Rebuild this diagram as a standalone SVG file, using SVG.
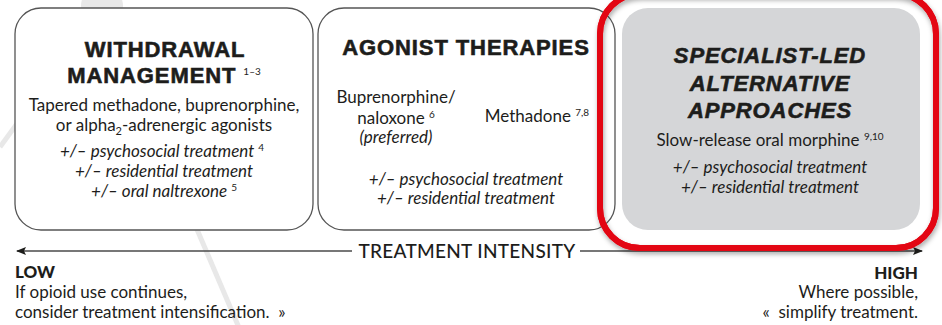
<svg xmlns="http://www.w3.org/2000/svg" width="942" height="325" viewBox="0 0 942 325">
<defs>
<style>
.bg{stroke:#e8e8e8;stroke-width:5;fill:none}
.bgc{fill:#e8e8e8}
.box{fill:#fff;stroke:#555;stroke-width:1.3}
.grey{fill:#d5d6d8}
.red{fill:none;stroke:#e30613;stroke-width:6}
.t{font-family:Lato,"Open Sans","Liberation Sans",sans-serif;fill:#1d1d1b}
.h{font-family:"Liberation Sans",Arial,sans-serif;font-weight:700;font-size:22px;letter-spacing:0.9px;stroke:#1d1d1b;stroke-width:0.6px}
.hi{font-family:"Liberation Sans",Arial,sans-serif;font-weight:700;font-style:italic;font-size:22px;letter-spacing:0.9px;stroke:#1d1d1b;stroke-width:0.6px}
.b{font-size:17px}
.i{font-style:italic;font-size:17px}
.sup{font-size:10px;stroke:none}
.axis{stroke:#4a4a4a;stroke-width:1.6;fill:none}
.ax{font-family:Lato,"Liberation Sans",sans-serif;font-size:19px;fill:#1d1d1b;font-weight:500;letter-spacing:0.3px}
.lh{font-family:Lato,"Liberation Sans",sans-serif;font-weight:900;font-size:17px;fill:#1d1d1b}
.lt{font-family:Lato,"Liberation Sans",sans-serif;font-size:17px;fill:#1d1d1b}
</style>
<marker id="ah" viewBox="0 0 10 8" refX="9" refY="4" markerWidth="10" markerHeight="8" markerUnits="userSpaceOnUse" orient="auto-start-reverse">
<path d="M0,0 L10,4 L0,8 L2,4 Z" fill="#1d1d1b"/>
</marker>
<filter id="sh" x="-10%" y="-10%" width="120%" height="130%">
<feDropShadow dx="1" dy="3" stdDeviation="2.5" flood-color="#000" flood-opacity="0.35"/>
</filter>
</defs>

<g id="background">
<line class="bg" x1="102" y1="7" x2="0" y2="147"/>
<line class="bg" x1="102" y1="7" x2="272" y2="98"/>
<line class="bg" x1="102" y1="7" x2="240" y2="330"/>
<circle class="bgc" cx="102" cy="6" r="21"/>
<circle class="bgc" cx="272" cy="98" r="20"/>
</g>

<g id="connectors">
<line class="axis" x1="352" y1="251" x2="17" y2="251" marker-end="url(#ah)"/>
<line class="axis" x1="580" y1="251" x2="922" y2="251" marker-end="url(#ah)"/>
<text class="ax" x="467" y="258" text-anchor="middle">TREATMENT INTENSITY</text>
</g>

<g id="withdrawal">
<rect class="box" x="15" y="8" width="298" height="222" rx="26"/>
<text class="t h" x="165" y="57" text-anchor="middle">WITHDRAWAL</text>
<text class="t h" x="164" y="83" text-anchor="middle">MANAGEMENT <tspan class="sup" font-family="Lato,sans-serif" font-weight="400" font-size="11" letter-spacing="0" dy="-8">1–3</tspan></text>
<text class="t b" x="164" y="111" text-anchor="middle">Tapered methadone, buprenorphine,</text>
<text class="t b" x="164" y="131" text-anchor="middle">or alpha<tspan font-size="11" dy="4">2</tspan><tspan dy="-4">-adrenergic agonists</tspan></text>
<text class="t i" x="162" y="157" text-anchor="middle">+/– psychosocial treatment <tspan class="sup" font-style="normal" dy="-6">4</tspan></text>
<text class="t i" x="164" y="177" text-anchor="middle">+/– residential treatment</text>
<text class="t i" x="164" y="197" text-anchor="middle">+/– oral naltrexone <tspan class="sup" font-style="normal" dy="-6">5</tspan></text>
</g>

<g id="agonist">
<rect class="box" x="318" y="8" width="297" height="222" rx="26"/>
<text class="t h" x="466" y="55" text-anchor="middle">AGONIST THERAPIES</text>
<text class="t b" x="396" y="103" text-anchor="middle">Buprenorphine/</text>
<text class="t b" x="396" y="124" text-anchor="middle">naloxone <tspan class="sup" dy="-6">6</tspan></text>
<text class="t i" x="396" y="143" text-anchor="middle">(preferred)</text>
<text class="t b" x="537" y="122" text-anchor="middle">Methadone <tspan class="sup" dy="-6">7,8</tspan></text>
<text class="t i" x="466" y="185" text-anchor="middle">+/– psychosocial treatment</text>
<text class="t i" x="466" y="204" text-anchor="middle">+/– residential treatment</text>
</g>

<g id="specialist">
<rect class="red" x="600" y="-6" width="336" height="254" rx="40" filter="url(#sh)"/>
<rect class="red" x="600" y="-6" width="336" height="254" rx="40"/>
<rect class="grey" x="622" y="8" width="298" height="222" rx="26"/>
<text class="t hi" x="770" y="63" text-anchor="middle">SPECIALIST-LED</text>
<text class="t hi" x="770" y="91" text-anchor="middle">ALTERNATIVE</text>
<text class="t hi" x="770" y="118" text-anchor="middle">APPROACHES</text>
<text class="t b" x="770" y="146" text-anchor="middle">Slow-release oral morphine <tspan class="sup" dy="-6">9,10</tspan></text>
<text class="t i" x="770" y="173" text-anchor="middle">+/– psychosocial treatment</text>
<text class="t i" x="770" y="193" text-anchor="middle">+/– residential treatment</text>
</g>

<g id="low">
<text class="lh" x="15" y="278">LOW</text>
<text class="lt" x="15" y="298">If opioid use continues,</text>
<text class="lt" x="15" y="318">consider treatment intensification.&#160; »</text>
</g>

<g id="high">
<text class="lh" x="918" y="279" text-anchor="end">HIGH</text>
<text class="lt" x="918" y="298" text-anchor="end">Where possible,</text>
<text class="lt" x="918" y="318" text-anchor="end">«&#160; simplify treatment.</text>
</g>
</svg>
